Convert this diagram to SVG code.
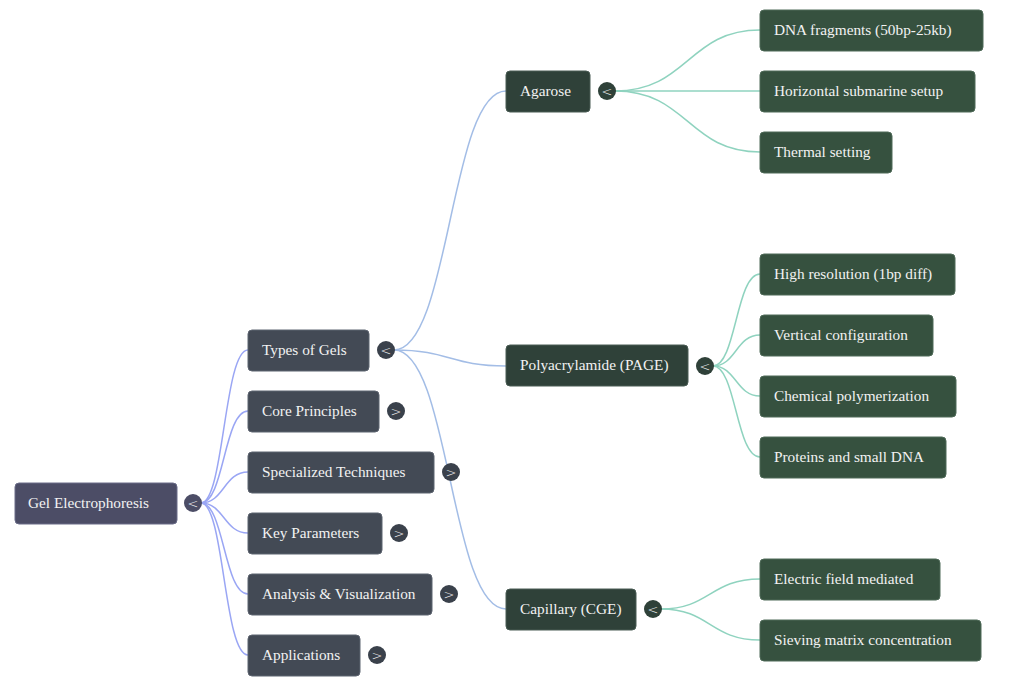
<svg xmlns="http://www.w3.org/2000/svg" width="1024" height="687" viewBox="0 0 1024 687">
<style>
text{font-family:"Liberation Serif","Times New Roman",serif;font-size:15.3px;fill:#f2f2f2}
.r rect{fill:#4c4d66;stroke:#6a6c88;stroke-width:1}
.l1 rect{fill:#434a55;stroke:#5d6470;stroke-width:1}
.l2 rect{fill:#2f4139;stroke:#4a5c54;stroke-width:1}
.l3 rect{fill:#36513f;stroke:#4f6a58;stroke-width:1}
.c circle{stroke:none}
.c text{font-family:"DejaVu Sans",sans-serif;font-size:13px;text-anchor:middle;font-weight:300}
.e1{fill:none;stroke:#9aa6f4;stroke-width:1.5}
.e2{fill:none;stroke:#a3bde6;stroke-width:1.5}
.e3{fill:none;stroke:#8fd3bf;stroke-width:1.5}
</style>
<g id="connectors">
<path class="e1" d="M201,503 C224,503 224,350 248,350"/>
<path class="e1" d="M201,503 C224,503 224,411 248,411"/>
<path class="e1" d="M201,503 C224,503 224,472 248,472"/>
<path class="e1" d="M201,503 C224,503 224,533 248,533"/>
<path class="e1" d="M201,503 C224,503 224,594 248,594"/>
<path class="e1" d="M201,503 C224,503 224,655 248,655"/>
<path class="e2" d="M394,350 C450,350 450,91 506,91"/>
<path class="e2" d="M394,350 C450,350 450,366 506,366"/>
<path class="e2" d="M394,350 C450,350 450,609 506,609"/>
<path class="e3" d="M615,91 C688,91 688,30 760,30"/>
<path class="e3" d="M615,91 L760,91"/>
<path class="e3" d="M615,91 C688,91 688,152 760,152"/>
<path class="e3" d="M713,366 C736,366 736,274 760,274"/>
<path class="e3" d="M713,366 C736,366 736,335 760,335"/>
<path class="e3" d="M713,366 C736,366 736,396 760,396"/>
<path class="e3" d="M713,366 C736,366 736,457 760,457"/>
<path class="e3" d="M661,609 C710,609 710,579 760,579"/>
<path class="e3" d="M661,609 C710,609 710,640 760,640"/>
</g>
<g id="root" class="r">
<rect x="15" y="483" width="162" height="41" rx="4"/>
<text x="28" y="508">Gel Electrophoresis</text>
<g class="c"><circle cx="193" cy="503" r="9" fill="#4c4d66"/><text x="193" y="508">&lt;</text></g>
</g>
<g id="types" class="l1">
<rect x="248" y="330" width="121" height="41" rx="4"/>
<text x="262" y="355">Types of Gels</text>
<g class="c"><circle cx="386" cy="350" r="9" fill="#3a414b"/><text x="386" y="355">&lt;</text></g>
</g>
<g id="core" class="l1">
<rect x="248" y="391" width="131" height="41" rx="4"/>
<text x="262" y="416">Core Principles</text>
<g class="c"><circle cx="396" cy="411" r="9" fill="#3a414b"/><text x="396" y="416">&gt;</text></g>
</g>
<g id="special" class="l1">
<rect x="248" y="452" width="186" height="41" rx="4"/>
<text x="262" y="477">Specialized Techniques</text>
<g class="c"><circle cx="451" cy="472" r="9" fill="#3a414b"/><text x="451" y="477">&gt;</text></g>
</g>
<g id="params" class="l1">
<rect x="248" y="513" width="134" height="41" rx="4"/>
<text x="262" y="538">Key Parameters</text>
<g class="c"><circle cx="399" cy="533" r="9" fill="#3a414b"/><text x="399" y="538">&gt;</text></g>
</g>
<g id="analysis" class="l1">
<rect x="248" y="574" width="184" height="41" rx="4"/>
<text x="262" y="599">Analysis &amp; Visualization</text>
<g class="c"><circle cx="449" cy="594" r="9" fill="#3a414b"/><text x="449" y="599">&gt;</text></g>
</g>
<g id="apps" class="l1">
<rect x="248" y="635" width="112" height="41" rx="4"/>
<text x="262" y="660">Applications</text>
<g class="c"><circle cx="377" cy="655" r="9" fill="#3a414b"/><text x="377" y="660">&gt;</text></g>
</g>
<g id="agarose" class="l2">
<rect x="506" y="71" width="84" height="41" rx="4"/>
<text x="520" y="96">Agarose</text>
<g class="c"><circle cx="607" cy="91" r="9" fill="#2f4139"/><text x="607" y="96">&lt;</text></g>
</g>
<g id="page" class="l2">
<rect x="506" y="345" width="182" height="41" rx="4"/>
<text x="520" y="370">Polyacrylamide (PAGE)</text>
<g class="c"><circle cx="705" cy="366" r="9" fill="#2f4139"/><text x="705" y="371">&lt;</text></g>
</g>
<g id="cge" class="l2">
<rect x="506" y="589" width="130" height="41" rx="4"/>
<text x="520" y="614">Capillary (CGE)</text>
<g class="c"><circle cx="653" cy="609" r="9" fill="#2f4139"/><text x="653" y="614">&lt;</text></g>
</g>
<g id="dna" class="l3"><rect x="760" y="10" width="223" height="41" rx="4"/><text x="774" y="35">DNA fragments (50bp-25kb)</text></g>
<g id="horiz" class="l3"><rect x="760" y="71" width="215" height="41" rx="4"/><text x="774" y="96">Horizontal submarine setup</text></g>
<g id="thermal" class="l3"><rect x="760" y="132" width="132" height="41" rx="4"/><text x="774" y="157">Thermal setting</text></g>
<g id="highres" class="l3"><rect x="760" y="254" width="195" height="41" rx="4"/><text x="774" y="279">High resolution (1bp diff)</text></g>
<g id="vertical" class="l3"><rect x="760" y="315" width="173" height="41" rx="4"/><text x="774" y="340">Vertical configuration</text></g>
<g id="chem" class="l3"><rect x="760" y="376" width="196" height="41" rx="4"/><text x="774" y="401">Chemical polymerization</text></g>
<g id="proteins" class="l3"><rect x="760" y="437" width="186" height="41" rx="4"/><text x="774" y="462">Proteins and small DNA</text></g>
<g id="electric" class="l3"><rect x="760" y="559" width="180" height="41" rx="4"/><text x="774" y="584">Electric field mediated</text></g>
<g id="sieving" class="l3"><rect x="760" y="620" width="221" height="41" rx="4"/><text x="774" y="645">Sieving matrix concentration</text></g>
</svg>
